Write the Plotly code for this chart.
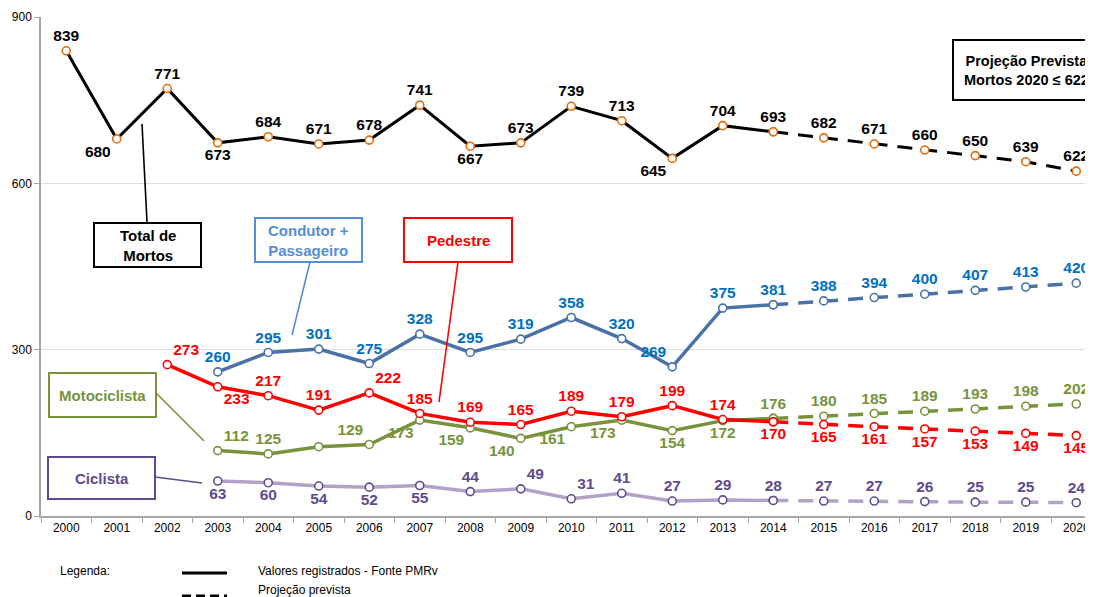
import plotly.graph_objects as go

# ---------------- data ----------------
years = [str(y) for y in range(2000, 2021)]

total_reg = [839, 680, 771, 673, 684, 671, 678, 741, 667, 673, 739, 713, 645, 704, 693]   # 2000-2014
total_proj = [682, 671, 660, 650, 639, 622]                                              # 2015-2020

cond_reg = [260, 295, 301, 275, 328, 295, 319, 358, 320, 269, 375, 381]                  # 2003-2014
cond_proj = [388, 394, 400, 407, 413, 420]

ped_reg = [273, 233, 217, 191, 222, 185, 169, 165, 189, 179, 199, 174, 170]               # 2002-2014
ped_proj = [165, 161, 157, 153, 149, 145]

moto_reg = [118, 112, 125, 129, 173, 159, 140, 161, 173, 154, 172, 176]                  # 2003-2014
moto_labels = ["112", "125", "", "129", "173", "159", "140", "161", "173", "154", "172", "176"]
moto_proj = [180, 185, 189, 193, 198, 202]

cicl_reg = [63, 60, 54, 52, 55, 44, 49, 31, 41, 27, 29, 28]                              # 2003-2014
cicl_proj = [27, 27, 26, 25, 25, 24]

# ---------------- layout helpers ----------------
W, H = 1093, 597
OFF = 8                      # page body margin offset
L, T = 33, 9
Y0 = 508                      # plot bottom in figure px
B = H - Y0
PW = W - L
PH = Y0 - T
STEP = 50.5                   # px per category


def px(x):
    return (x - OFF - L) / PW


def py(y):
    return (Y0 - (y - OFF)) / PH


FONT = "Liberation Sans, Arial, sans-serif"
LBL = 15.5

fig = go.Figure()


def add_series(reg, proj, start_year, line_color, marker_color, label_color,
               reg_pos, proj_pos, width=3.5, reg_text=None):
    i0 = years.index(str(start_year))
    xr = years[i0:i0 + len(reg)]
    txt = reg_text if reg_text is not None else [str(v) for v in reg]
    fig.add_trace(go.Scatter(
        x=xr, y=reg, mode="lines+markers+text",
        line=dict(color=line_color, width=width),
        marker=dict(size=8, color="white", line=dict(color=marker_color, width=1.6)),
        text=txt, textposition=reg_pos, cliponaxis=False,
        textfont=dict(family=FONT, size=LBL, color=label_color, weight="bold"),
        showlegend=False, hoverinfo="x+y"))
    xp = years[i0 + len(reg) - 1:]
    yp = [reg[-1]] + proj
    fig.add_trace(go.Scatter(
        x=xp, y=yp, mode="lines+markers+text",
        line=dict(color=line_color, width=width, dash="15px,10px"),
        marker=dict(size=8, color="white", line=dict(color=marker_color, width=1.6)),
        text=[""] + [str(v) for v in proj], textposition=proj_pos, cliponaxis=False,
        textfont=dict(family=FONT, size=LBL, color=label_color, weight="bold"),
        showlegend=False, hoverinfo="x+y"))


tc, bc, tr, tl, br, bl = "top center", "bottom center", "top right", "top left", "bottom right", "bottom left"

add_series(cicl_reg, cicl_proj, 2003, "#B3A2C7", "#5F4B8B", "#5F4B8B",
           [bc, bc, bc, bc, bc, tc, tr, tr, tc, tc, tc, tc], tc)
add_series(moto_reg, moto_proj, 2003, "#77933C", "#77933C", "#77933C",
           [tr, tc, tc, tl, bl, bl, bl, bl, bl, bc, bc, tc], tc, reg_text=moto_labels)
add_series(ped_reg, ped_proj, 2002, "#FF0000", "#FF0000", "#FF0000",
           [tr, br, tc, tc, tr, tc, tc, tc, tc, tc, tc, tc, bc], bc)
add_series(cond_reg, cond_proj, 2003, "#4A72A6", "#4A72A6", "#0070C0",
           [tc, tc, tc, tc, tc, tc, tc, tc, tc, tl, tc, tc], tc)
add_series(total_reg, total_proj, 2000, "#000000", "#E46C0A", "#000000",
           [tc, bl, tc, bc, tc, tc, tc, tc, bc, tc, tc, tc, bl, tc, tc], tc, width=3)

shapes = []
annotations = []


def box(x0, y0, x1, y1, color, text, tx=None, ty=None, size=15):
    shapes.append(dict(type="rect", xref="paper", yref="paper",
                       x0=px(x0), x1=px(x1), y0=py(y1), y1=py(y0),
                       line=dict(color=color, width=2), fillcolor="white", layer="above"))
    annotations.append(dict(xref="paper", yref="paper",
                            x=px(tx if tx is not None else (x0 + x1) / 2),
                            y=py(ty if ty is not None else (y0 + y1) / 2),
                            text=text, showarrow=False, xanchor="center", yanchor="middle",
                            font=dict(family=FONT, size=size, color=color, weight="bold")))


def seg(x0, y0, x1, y1, color, width=1.6, dash=None):
    d = dict(type="line", xref="paper", yref="paper",
             x0=px(x0), y0=py(y0), x1=px(x1), y1=py(y1),
             line=dict(color=color, width=width), layer="above")
    if dash:
        d["line"]["dash"] = dash
    shapes.append(d)


# callout boxes and pointers (reference screenshot pixels)
seg(147, 222, 142, 124, "#000000")
box(94, 223, 201, 267, "#000000", "Total de<br>Mortos")
seg(310, 262, 292, 335, "#558ED5")
box(255, 218, 362, 262, "#558ED5", "Condutor +<br>Passageiro")
seg(458, 262, 439, 402, "#FF0000")
box(404, 218, 512, 262, "#FF0000", "Pedestre")
seg(156, 393, 204, 441, "#77933C")
box(49, 373, 156, 417, "#77933C", "Motociclista")
seg(155, 477, 202, 483, "#5F4B8B")
box(48, 457, 155, 499, "#5F4B8B", "Ciclista")
box(953, 40, 1110, 100, "#000000", "Projeção Prevista<br>Mortos 2020 ≤ 622", tx=1026, ty=70, size=14.5)

# bottom legend
annotations.append(dict(xref="paper", yref="paper", x=px(58), y=py(571), text="Legenda:",
                        showarrow=False, xanchor="left", yanchor="middle",
                        font=dict(family=FONT, size=12, color="#000000")))
seg(182, 573, 227, 573, "#000000", width=3)
annotations.append(dict(xref="paper", yref="paper", x=px(256), y=py(571),
                        text="Valores registrados - Fonte PMRv",
                        showarrow=False, xanchor="left", yanchor="middle",
                        font=dict(family=FONT, size=12, color="#000000")))
seg(182, 596, 227, 596, "#000000", width=3, dash="9px,5px")
annotations.append(dict(xref="paper", yref="paper", x=px(256), y=py(590),
                        text="Projeção prevista",
                        showarrow=False, xanchor="left", yanchor="middle",
                        font=dict(family=FONT, size=12, color="#000000")))

fig.update_layout(
    width=W, height=H,
    margin=dict(l=L, r=0, t=T, b=B, pad=0),
    paper_bgcolor="white", plot_bgcolor="white",
    font=dict(family=FONT, size=12, color="#000000"),
    shapes=shapes, annotations=annotations,
    showlegend=False,
)
fig.update_xaxes(type="category", categoryorder="array", categoryarray=years,
                 range=[-0.5, -0.5 + PW / STEP], tickson="boundaries",
                 ticks="outside", ticklen=5, tickcolor="#A6A6A6",
                 showline=True, linecolor="#A6A6A6", linewidth=1.5,
                 showgrid=False, tickfont=dict(size=12, color="#000000"))
fig.update_yaxes(range=[0, 900], tickvals=[0, 300, 600, 900],
                 ticks="outside", ticklen=5, tickcolor="#A6A6A6",
                 showline=True, linecolor="#A6A6A6", linewidth=1.5,
                 showgrid=True, gridcolor="#DDDDDD", gridwidth=1.2, zeroline=False,
                 tickfont=dict(size=12, color="#000000"))

fig.write_html("out.html")
